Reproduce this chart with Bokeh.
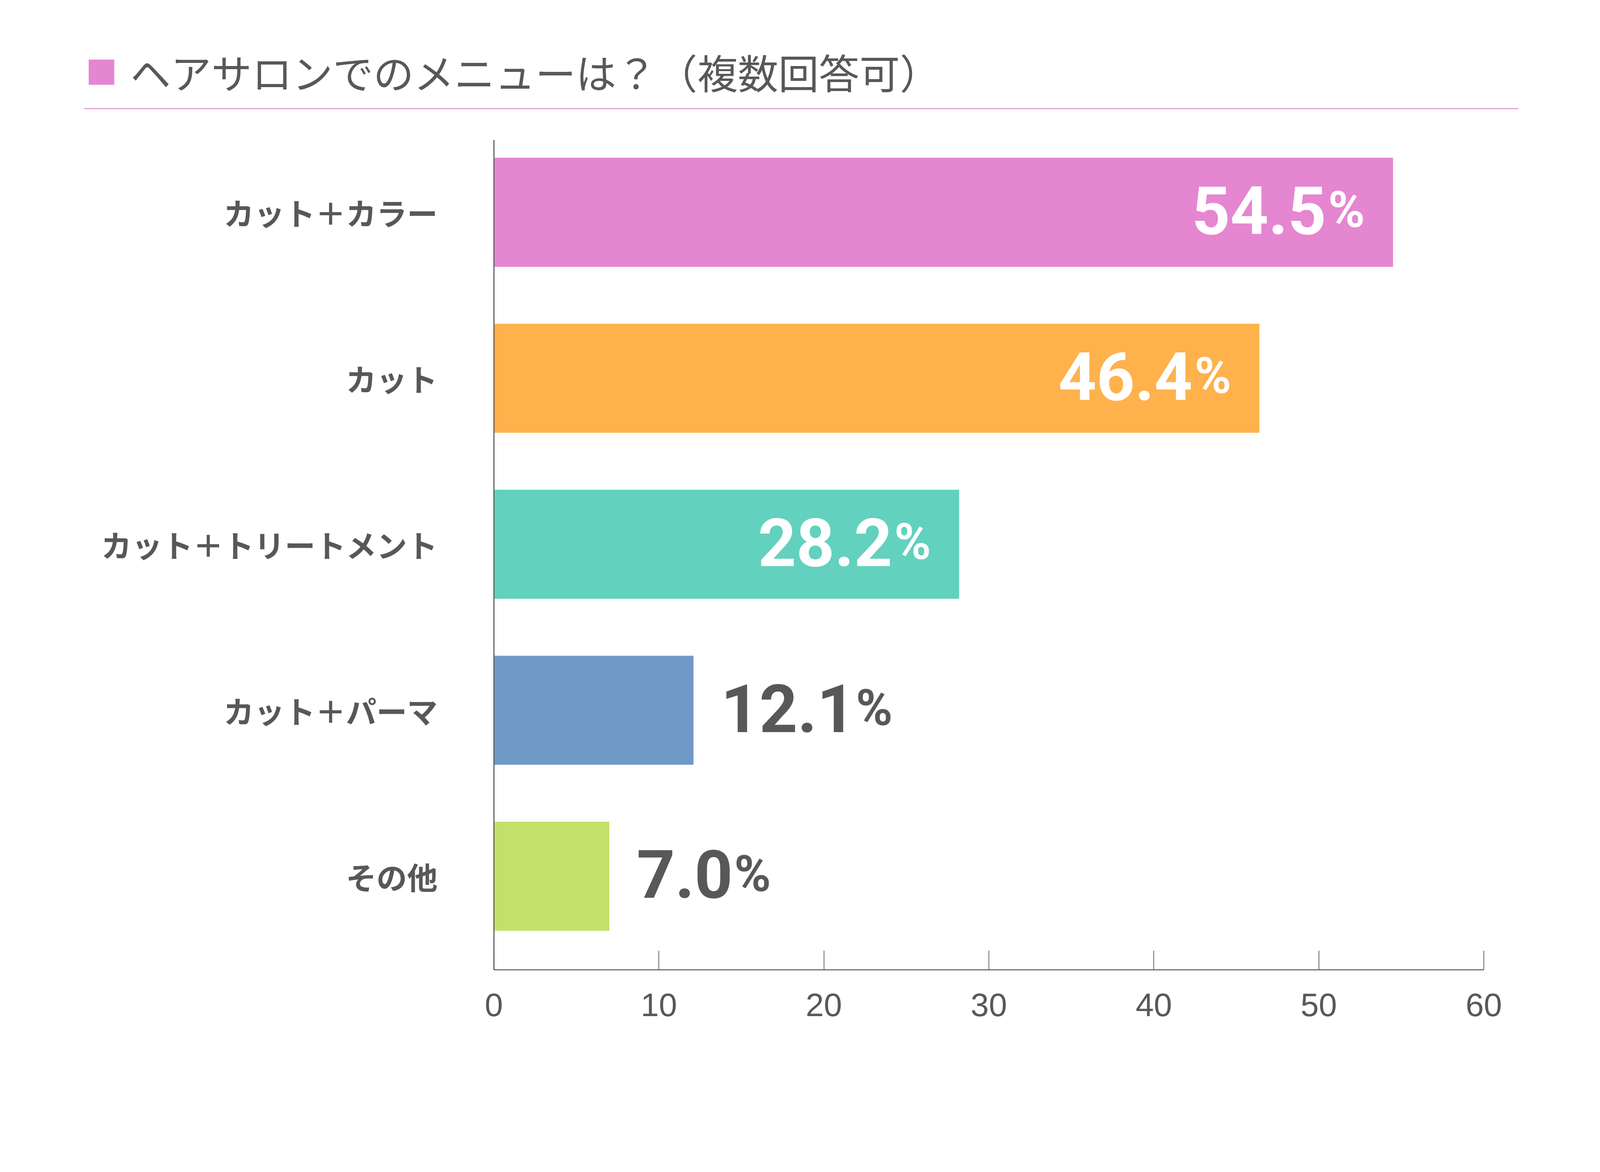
from bokeh.plotting import figure
from bokeh.models import ColumnDataSource, Range1d, FixedTicker
from bokeh.embed import file_html
from bokeh.resources import INLINE
from bokeh.core.properties import value

# ---- data ----
categories = ["カット＋カラー", "カット", "カット＋トリートメント", "カット＋パーマ", "その他"]
values = [54.5, 46.4, 28.2, 12.1, 7.0]
value_labels = ["54.5", "46.4", "28.2", "12.1", "7.0"]
bar_colors = ["#E586D1", "#FFB14C", "#62D1BD", "#7099C8", "#C3E16A"]
x_ticks = [0, 10, 20, 30, 40, 50, 60]
title_text = "ヘアサロンでのメニューは？（複数回答可）"

GRAY = "#595757"
PINK = "#E586D1"
LINE_PINK = "#E08CCF"

K = 0.91  # overall pixel scale


def S(v):
    return v * K


# layout in unscaled canvas pixels
W0, H0 = 4440, 2950
OX, OY = 9, 8                                # canvas shift
FL, FR, FT, FB = 1380, 4165, 386, 2720      # plot area edges
X0, X1 = 0, 60                               # value axis extent
n = len(categories)
ypos = [n - 1 - i for i in range(n)]
Y_LO, Y_HI = -0.564, (n - 1) + 0.434         # category axis extent

u = (X1 - X0) / (FR - FL)
v = (Y_HI - Y_LO) / (FB - FT)


def px2x(px):
    return X0 + (px - FL) * u


def px2y(py):
    return Y_HI - (py - FT) * v


p = figure(width=round(S(W0)), height=round(S(H0)),
           x_range=Range1d(px2x(-OX), px2x(W0 - OX)),
           y_range=Range1d(px2y(H0 - OY), px2y(-OY)),
           output_backend="svg", toolbar_location=None,
           min_border=0, min_border_left=0, min_border_right=0,
           min_border_top=0, min_border_bottom=0)
p.outline_line_color = None
p.grid.visible = False

# x axis
xa = p.xaxis[0]
xa.fixed_location = Y_LO
xa.bounds = (X0, X1)
xa.ticker = FixedTicker(ticks=x_ticks)
xa.major_tick_in = round(S(54))
xa.major_tick_out = 0
xa.minor_tick_line_color = None
xa.axis_line_width = S(3)
xa.axis_line_color = GRAY
xa.major_tick_line_color = GRAY
xa.major_tick_line_width = S(2)
xa.major_label_text_font = "Liberation Sans"
xa.major_label_text_font_size = f"{S(92):.1f}px"
xa.major_label_text_color = GRAY
xa.major_label_standoff = round(S(66))

# y axis
ya = p.yaxis[0]
ya.fixed_location = X0
ya.bounds = (Y_LO, Y_HI)
ya.ticker = FixedTicker(ticks=ypos)
ya.major_label_overrides = {ypos[i]: categories[i] for i in range(n)}
ya.major_tick_in = 0
ya.major_tick_out = 0
ya.minor_tick_line_color = None
ya.axis_line_width = S(3)
ya.axis_line_color = GRAY
ya.major_label_text_font = "Noto Sans CJK JP"
ya.major_label_text_font_style = "bold"
ya.major_label_text_font_size = f"{S(86):.1f}px"
ya.major_label_text_color = GRAY
ya.major_label_standoff = round(S(158))

# bars
src = ColumnDataSource(dict(y=ypos, value=values, color=bar_colors))
p.hbar(y="y", left=0, right="value", height=0.657, source=src,
       fill_color="color", line_color=None)

# value labels
NUM_SIZE = S(188)
PCT_SIZE = S(140)
inside = [i for i in range(n) if values[i] >= 20]
outside = [i for i in range(n) if values[i] < 20]


def est_width(s):
    return sum(0.27 if ch == "." else 0.562 for ch in s) * NUM_SIZE


src_in = ColumnDataSource(dict(
    y=[ypos[i] for i in inside], value=[values[i] for i in inside],
    label=[value_labels[i] for i in inside], pct=["%"] * len(inside)))
src_out = ColumnDataSource(dict(
    y=[ypos[i] for i in outside], value=[values[i] for i in outside],
    label=[value_labels[i] for i in outside], pct=["%"] * len(outside),
    pct_off=[S(77) + est_width(value_labels[i]) + S(12) for i in outside]))

common = dict(text_font=value("Roboto"), text_font_style="bold",
              text_baseline="alphabetic", y_offset=S(-6))

p.text(x="value", y="y", text="label", source=src_in, text_align="right",
       x_offset=-S(188), text_font_size=f"{NUM_SIZE:.1f}px", text_color="white", **common)
p.text(x="value", y="y", text="pct", source=src_in, text_align="right",
       x_offset=-S(79), text_font_size=f"{PCT_SIZE:.1f}px", text_color="white", **common)
p.text(x="value", y="y", text="label", source=src_out, text_align="left",
       x_offset=S(77), text_font_size=f"{NUM_SIZE:.1f}px", text_color=GRAY, **common)
p.text(x="value", y="y", text="pct", source=src_out, text_align="left",
       x_offset="pct_off", text_font_size=f"{PCT_SIZE:.1f}px", text_color=GRAY, **common)

# header: marker square, title, pink rule
p.quad(left=[px2x(240)], right=[px2x(312)], top=[px2y(159)], bottom=[px2y(230)],
       fill_color=PINK, line_color=None)
p.segment(x0=[px2x(228)], y0=[px2y(297)], x1=[px2x(4262)], y1=[px2y(297)],
          line_color=LINE_PINK, line_width=S(3))
p.text(x=[px2x(357)], y=[px2y(193)], text=[title_text],
       text_font=value("Noto Sans CJK JP"), text_font_size=f"{S(114):.1f}px",
       text_color=GRAY, text_baseline="middle", text_align="left")

open("out.html", "w").write(file_html(p, INLINE))
